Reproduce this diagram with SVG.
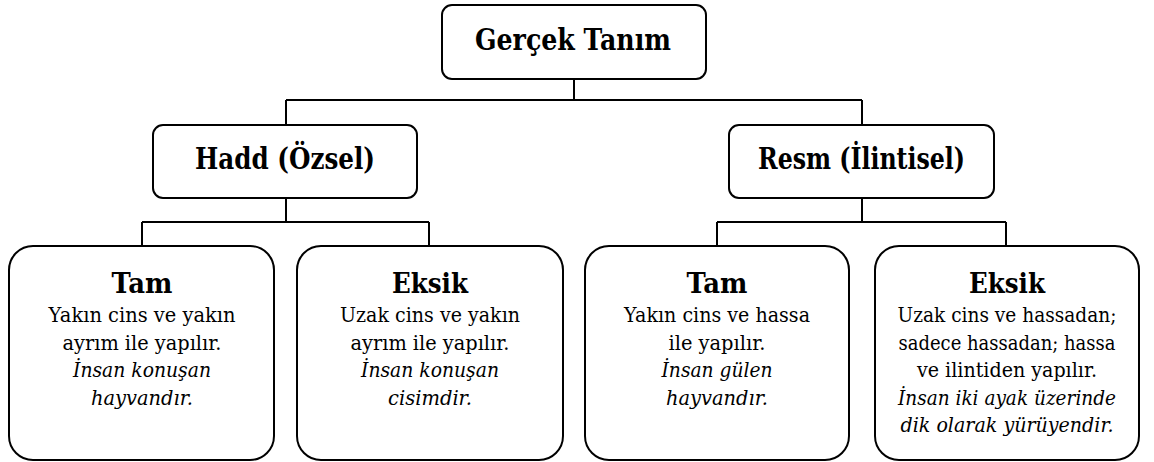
<svg xmlns="http://www.w3.org/2000/svg" width="1154" height="462" viewBox="0 0 1154 462">
<style>
.box{fill:#fff;stroke:#000;stroke-width:2}
.ln{fill:none;stroke:#000;stroke-width:2}
text{font-family:'DejaVu Serif','Liberation Serif',serif;fill:#000;text-anchor:middle}
.h{font-weight:bold;font-size:29px}
.hs{font-weight:bold;font-size:28px}
.b{font-size:20.5px}
.i{font-style:italic}
</style>
<rect width="1154" height="462" fill="#fff"/>
<g id="connectors">
<path class="ln" d="M574 79V100M286 100H862M286 100V125M862 100V125"/>
<path class="ln" d="M286 198V222M142 222H429M142 222V246M429 222V246"/>
<path class="ln" d="M862 198V222M717 222H1006M717 222V246M1006 222V246"/>
</g>
<g id="gercek">
<rect class="box" x="442" y="5" width="264" height="74" rx="10"/>
<text class="h" x="573" y="50" textLength="196" lengthAdjust="spacingAndGlyphs">Gerçek Tanım</text>
</g>
<g id="hadd">
<rect class="box" x="153" y="125" width="264" height="73" rx="10"/>
<text class="h" x="285" y="169" textLength="180" lengthAdjust="spacingAndGlyphs">Hadd (Özsel)</text>
</g>
<g id="resm">
<rect class="box" x="729" y="125" width="265" height="73" rx="10"/>
<text class="h" x="861.5" y="169" textLength="207" lengthAdjust="spacingAndGlyphs">Resm (İlintisel)</text>
</g>
<g id="hadd-tam">
<rect class="box" x="9" y="246" width="265" height="214" rx="24"/>
<text class="hs" x="142" y="293" textLength="61" lengthAdjust="spacingAndGlyphs">Tam</text>
<text class="b" x="142" y="322" textLength="187" lengthAdjust="spacingAndGlyphs">Yakın cins ve yakın</text>
<text class="b" x="142" y="349.5" textLength="159" lengthAdjust="spacingAndGlyphs">ayrım ile yapılır.</text>
<text class="b i" x="142" y="377" textLength="138" lengthAdjust="spacingAndGlyphs">İnsan konuşan</text>
<text class="b i" x="142" y="404.5" textLength="102" lengthAdjust="spacingAndGlyphs">hayvandır.</text>
</g>
<g id="hadd-eksik">
<rect class="box" x="297" y="246" width="266" height="214" rx="24"/>
<text class="hs" x="430" y="293" textLength="76" lengthAdjust="spacingAndGlyphs">Eksik</text>
<text class="b" x="430" y="322" textLength="180" lengthAdjust="spacingAndGlyphs">Uzak cins ve yakın</text>
<text class="b" x="430" y="349.5" textLength="159" lengthAdjust="spacingAndGlyphs">ayrım ile yapılır.</text>
<text class="b i" x="430" y="377" textLength="138" lengthAdjust="spacingAndGlyphs">İnsan konuşan</text>
<text class="b i" x="430" y="404.5" textLength="84" lengthAdjust="spacingAndGlyphs">cisimdir.</text>
</g>
<g id="resm-tam">
<rect class="box" x="585" y="246" width="264" height="214" rx="24"/>
<text class="hs" x="717" y="293" textLength="61" lengthAdjust="spacingAndGlyphs">Tam</text>
<text class="b" x="717" y="322" textLength="186" lengthAdjust="spacingAndGlyphs">Yakın cins ve hassa</text>
<text class="b" x="717" y="349.5" textLength="97" lengthAdjust="spacingAndGlyphs">ile yapılır.</text>
<text class="b i" x="717" y="377" textLength="111" lengthAdjust="spacingAndGlyphs">İnsan gülen</text>
<text class="b i" x="717" y="404.5" textLength="102" lengthAdjust="spacingAndGlyphs">hayvandır.</text>
</g>
<g id="resm-eksik">
<rect class="box" x="875" y="246" width="264" height="214" rx="24"/>
<text class="hs" x="1007" y="293" textLength="76" lengthAdjust="spacingAndGlyphs">Eksik</text>
<text class="b" x="1007" y="322" textLength="219" lengthAdjust="spacingAndGlyphs">Uzak cins ve hassadan;</text>
<text class="b" x="1007" y="349.5" textLength="217" lengthAdjust="spacingAndGlyphs">sadece hassadan; hassa</text>
<text class="b" x="1007" y="377" textLength="180" lengthAdjust="spacingAndGlyphs">ve ilintiden yapılır.</text>
<text class="b i" x="1007" y="404.5" textLength="218" lengthAdjust="spacingAndGlyphs">İnsan iki ayak üzerinde</text>
<text class="b i" x="1007" y="432" textLength="213" lengthAdjust="spacingAndGlyphs">dik olarak yürüyendir.</text>
</g>
</svg>
